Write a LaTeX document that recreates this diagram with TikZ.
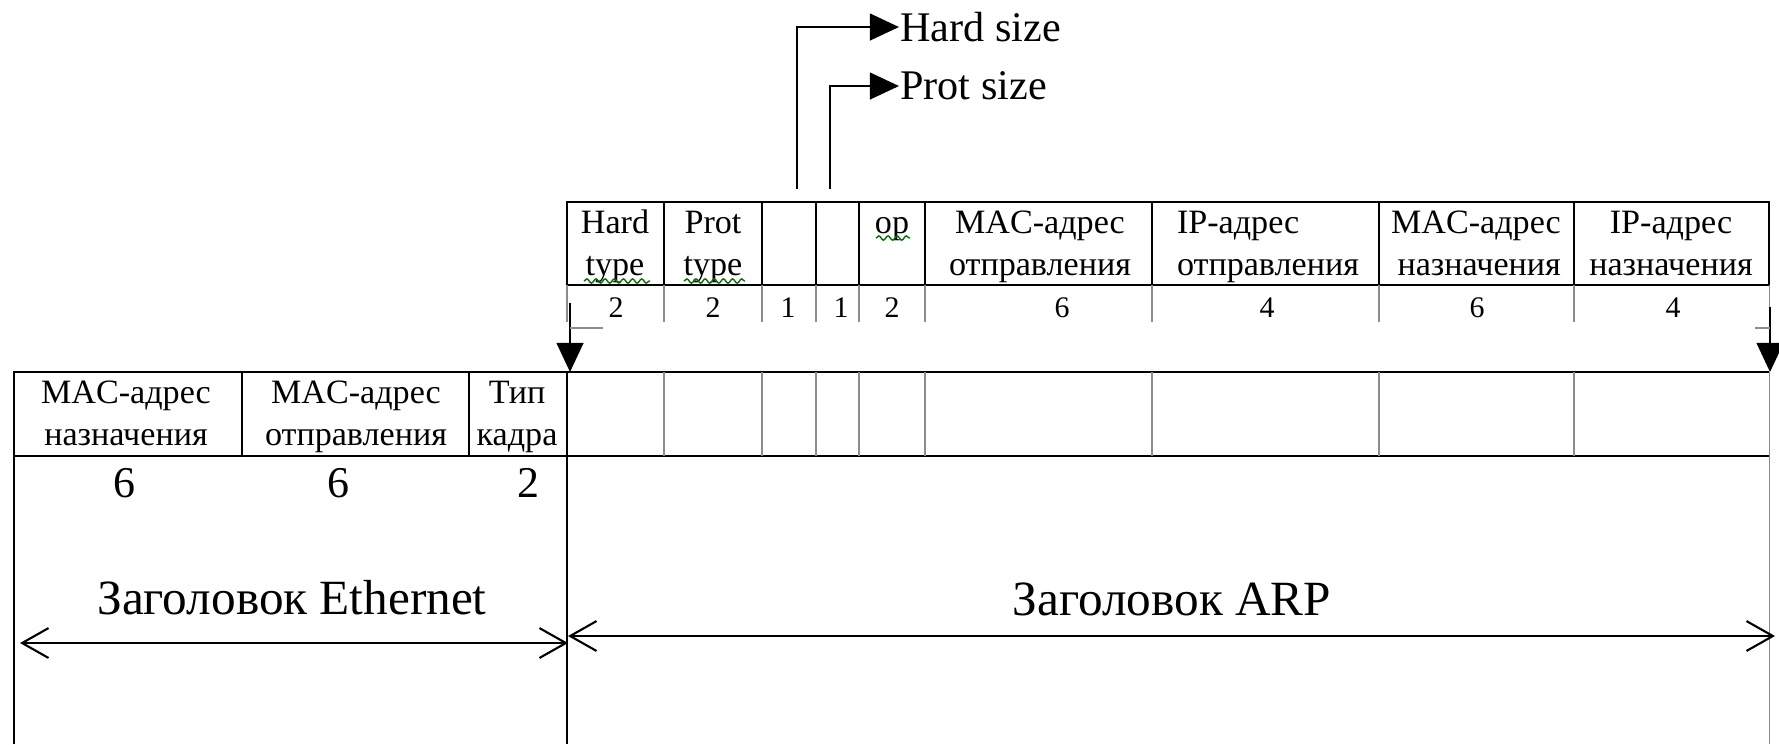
\documentclass[tikz,border=0pt]{standalone}
\usepackage{fontspec}
\setmainfont{Liberation Serif}
\usetikzlibrary{arrows.meta, decorations.pathmorphing}

\begin{document}
\begin{tikzpicture}[x=0.01cm, y=-0.01cm, line width=0.7pt,
	hdr/.style={font=\fontsize{9.7}{12}\selectfont, align=center, inner sep=0pt},
	num/.style={font=\fontsize{8.5}{10}\selectfont, inner sep=0pt},
	bignum/.style={font=\fontsize{12.5}{14}\selectfont, inner sep=0pt},
	title/.style={font=\fontsize{14}{16}\selectfont, inner sep=0pt},
	side/.style={font=\fontsize{12}{14}\selectfont, inner sep=0pt, anchor=west},
	grid/.style={line width=0.3pt, black!45},
	filltip/.style={-{Triangle[length=8.3pt, width=7.6pt]}},
	dim/.style={{Straight Barb[length=7.5pt, width=8.5pt]}-{Straight Barb[length=7.5pt, width=8.5pt]}, line width=0.6pt},
	typo/.style={green!45!black, line width=0.4pt, decorate, decoration={snake, amplitude=0.6pt, segment length=2.6pt}}
	]
	\useasboundingbox (0,0) rectangle (1779,744);

	% ARP fields
	\draw (567,202) rectangle (1769,285);
	\foreach \x in {664,762,816,859,925,1152,1379,1574}
		\draw (\x,202) -- (\x,285);
	\foreach \x in {567,664,762,816,859,925,1152,1379,1574,1769}
		\draw[grid] (\x,285) -- (\x,322);

	\node[hdr] (h1) at (615,246) {Hard\strut\\type\strut};
	\node[hdr] (h2) at (713,246) {Prot\strut\\type\strut};
	\node[hdr, anchor=base] (h5) at (892,233) {op};
	\node[hdr] (h6) at (1040,246) {MAC-адрес\strut\\отправления\strut};
	\node[hdr, align=left] (h7) at (1268,246) {IP-адрес\strut\\отправления\strut};
	\node[hdr, align=right] (h8) at (1476,246) {MAC-адрес\strut\\назначения\strut};
	\node[hdr] (h9) at (1671,246) {IP-адрес\strut\\назначения\strut};

	\draw[typo] (584,281) -- (650,281);
	\draw[typo] (684,281) -- (745,281);
	\draw[typo] (876,238) -- (910,238);

	\foreach \x/\n [count=\i] in {616/2, 713/2, 788/1, 841/1, 892/2, 1062/6, 1267/4, 1477/6, 1673/4}
		\node[num] (n\i) at (\x,308) {\n};

	% size fields
	\coordinate (hs) at (797,189);
	\coordinate (ps) at (830,189);
	\node[side] (hsize) at (899,27) {Hard size};
	\node[side] (psize) at (899,86) {Prot size};
	\draw[filltip] (hs) |- (hsize.west);
	\draw[filltip] (ps) |- (psize.west);

	% where ARP goes
	\coordinate (d1) at (570,303);
	\coordinate (d2) at (570,372);
	\coordinate (d3) at (1770,307);
	\coordinate (d4) at (1770,372);
	\draw[filltip] (d1) -- (d2);
	\draw[filltip] (d3) -- (d4);
	\draw[grid] (570,328) -- (603,328);
	\draw[grid] (1755,328) -- (1770,328);

	% frame
	\draw (14,744) -- (14,372) -- (1769,372);
	\draw (14,456) -- (1769,456);
	\draw (567,372) -- (567,744);
	\draw (242,372) -- (242,456);
	\draw (469,372) -- (469,456);
	\foreach \x in {664,762,816,859,925,1152,1379,1574}
		\draw[grid] (\x,372) -- (\x,456);
	\draw[grid] (1769,372) -- (1769,744);

	\node[hdr] (e1) at (126,416) {MAC-адрес\strut\\назначения\strut};
	\node[hdr] (e2) at (356,416) {MAC-адрес\strut\\отправления\strut};
	\node[hdr] (e3) at (517,416) {Тип\strut\\кадра\strut};
	\node[bignum] (m1) at (124,483) {6};
	\node[bignum] (m2) at (338,483) {6};
	\node[bignum] (m3) at (528,483) {2};

	\node[title] (eth) at (292,598) {Заголовок Ethernet};
	\node[title] (arp) at (1172,599) {Заголовок ARP};
	\coordinate (el) at (20,643);
	\coordinate (er) at (568,643);
	\coordinate (al) at (568,636);
	\coordinate (ar) at (1775,636);
	\draw[dim] (el) -- (er);
	\draw[dim] (al) -- (ar);
\end{tikzpicture}
\end{document}
